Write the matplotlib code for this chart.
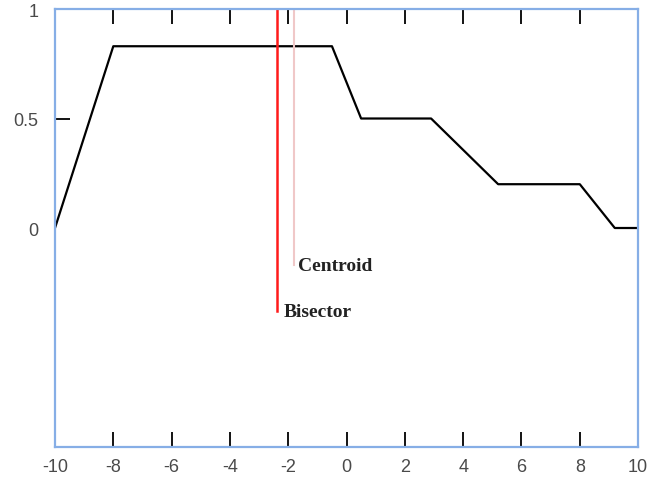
import matplotlib
matplotlib.use("Agg")
import matplotlib.pyplot as plt

# aggregated output membership function
x_vals = [-10, -8, -0.5, 0.5, 2.9, 5.2, 8, 9.2, 10]
mu_vals = [0, 0.83, 0.83, 0.5, 0.5, 0.2, 0.2, 0, 0]

# defuzzified values and where their marker lines stop
bisector_x = -2.4
bisector_bottom = -0.38
centroid_x = -1.8
centroid_bottom = -0.17
line_top = 1.0

x_ticks = [-10, -8, -6, -4, -2, 0, 2, 4, 6, 8, 10]
y_ticks = [0, 0.5, 1]

FRAME_BLUE = "#86aee6"

fig = plt.figure(figsize=(6.53, 4.81), dpi=100)
ax = fig.add_axes([0.0842, 0.0686, 0.893, 0.9106])

ax.plot(x_vals, mu_vals, color="black", lw=1.6)
ax.plot([bisector_x, bisector_x], [bisector_bottom, line_top], color="#ff1a1a", lw=1.8)
ax.plot([centroid_x, centroid_x], [centroid_bottom, line_top], color="#f0c8c8", lw=1.5)

ax.annotate("Centroid", (centroid_x, centroid_bottom), xytext=(3, 0),
            textcoords="offset points", va="center", ha="left",
            family="Liberation Serif", weight="bold", fontsize=14, color="#222222")
ax.annotate("Bisector", (bisector_x, bisector_bottom), xytext=(5, 0),
            textcoords="offset points", va="center", ha="left",
            family="Liberation Serif", weight="bold", fontsize=14, color="#222222")

ax.set_xlim(-10, 10)
ax.set_ylim(-1, 1)
ax.set_xticks(x_ticks)
ax.set_yticks(y_ticks)
ax.set_xticklabels([str(t) for t in x_ticks])
ax.set_yticklabels(["0", "0.5", "1"])

for s in ax.spines.values():
    s.set_color(FRAME_BLUE)
    s.set_linewidth(1.6)

ax.tick_params(axis="x", direction="in", length=10.5, width=1.3, color="black",
               top=True, bottom=True, pad=8, labelsize=13, labelcolor="#4a4a4a")
ax.tick_params(axis="y", direction="in", length=10.5, width=1.3, color="black",
               left=True, right=False, pad=12, labelsize=13, labelcolor="#4a4a4a")
for lbl in ax.get_xticklabels() + ax.get_yticklabels():
    lbl.set_family("Liberation Sans")

# edge ticks sit on the frame, and the 0 tick is not drawn in the reference
xt = ax.xaxis.get_major_ticks()
for t in (xt[0], xt[-1]):
    t.tick1line.set_visible(False)
    t.tick2line.set_visible(False)
yt = ax.yaxis.get_major_ticks()
for t in (yt[0], yt[-1]):
    t.tick1line.set_visible(False)

fig.savefig("out.png", dpi=100)
